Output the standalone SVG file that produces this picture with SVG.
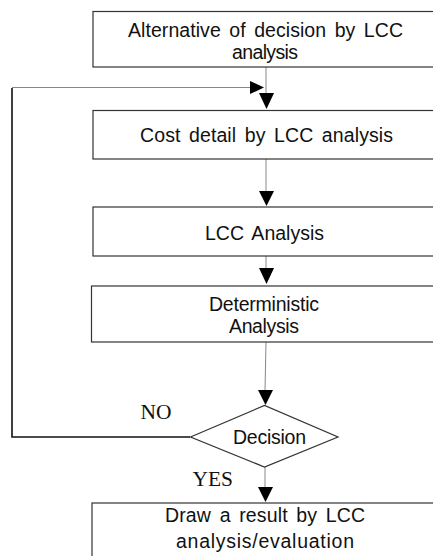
<svg xmlns="http://www.w3.org/2000/svg" width="433" height="556" viewBox="0 0 433 556">
<defs>
<style>
.box{fill:#fff;stroke:#333;stroke-width:1.2}
.t{font-family:"Liberation Sans",Arial,sans-serif;font-size:19.5px;fill:#111;word-spacing:3px}
.s{font-family:"Liberation Serif","Times New Roman",serif;font-size:21px;fill:#111}
.ln{fill:none;stroke:#888;stroke-width:1}
.fb{fill:none;stroke:#111;stroke-width:1.6}
.ah{fill:#000}
</style>
</defs>
<rect width="433" height="556" fill="#fff"/>
<g id="connectors">
<line class="ln" x1="266" y1="67" x2="266" y2="95"/>
<polygon class="ah" points="259,93 274,93 266.5,109"/>
<line class="ln" x1="266" y1="159" x2="266" y2="192"/>
<polygon class="ah" points="259,191 274,191 266.5,206"/>
<line class="ln" x1="266" y1="256" x2="266" y2="269"/>
<polygon class="ah" points="259,268 274,268 266.5,284"/>
<line class="ln" x1="266" y1="342" x2="265" y2="391"/>
<polygon class="ah" points="258,390 273,390 265.5,405"/>
<line class="ln" x1="265" y1="467" x2="265" y2="488"/>
<polygon class="ah" points="258,487 273,487 265.5,502"/>
<polyline class="fb" points="190,437 12,437 12,88"/>
<line class="ln" x1="12" y1="87.5" x2="251" y2="87.5"/>
<polygon class="ah" points="250,81 264,87.5 250,94"/>
<text class="s" x="140.5" y="419" textLength="31" lengthAdjust="spacingAndGlyphs">NO</text>
<text class="s" x="192.5" y="485.5" textLength="40.5" lengthAdjust="spacingAndGlyphs">YES</text>
</g>
<g id="n1">
<rect class="box" x="93" y="11.5" width="346" height="55.5"/>
<text class="t" x="128" y="37" textLength="275" lengthAdjust="spacing">Alternative of decision by LCC</text>
<text class="t" x="232" y="59" textLength="66" lengthAdjust="spacing">analysis</text>
</g>
<g id="n2">
<rect class="box" x="93" y="110.5" width="346" height="48.5"/>
<text class="t" x="140" y="142" textLength="253" lengthAdjust="spacing">Cost detail by LCC analysis</text>
</g>
<g id="n3">
<rect class="box" x="93" y="207" width="346" height="49"/>
<text class="t" x="205" y="240" textLength="119" lengthAdjust="spacing">LCC Analysis</text>
</g>
<g id="n4">
<rect class="box" x="91.5" y="286" width="346" height="56"/>
<text class="t" x="209" y="311" textLength="110" lengthAdjust="spacing">Deterministic</text>
<text class="t" x="229" y="333" textLength="70" lengthAdjust="spacing">Analysis</text>
</g>
<g id="n5">
<polygon class="box" points="190.5,437 264.5,405.5 338,437 264.5,467"/>
<text class="t" x="233" y="443.5" textLength="73" lengthAdjust="spacing">Decision</text>
</g>
<g id="n6">
<rect class="box" x="92" y="503" width="346" height="60"/>
<text class="t" x="165" y="522" textLength="200" lengthAdjust="spacing">Draw a result by LCC</text>
<text class="t" x="176" y="548" textLength="178" lengthAdjust="spacing">analysis/evaluation</text>
</g>
</svg>
